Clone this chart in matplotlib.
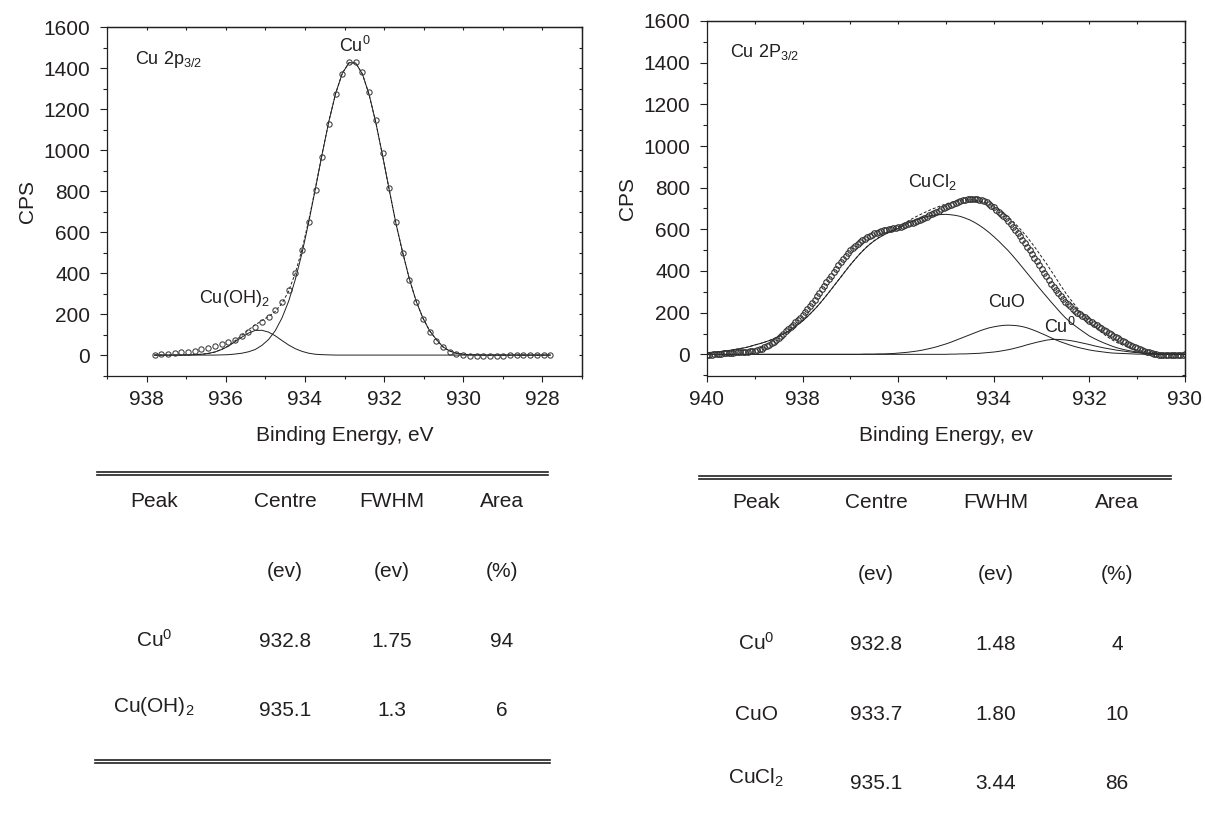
import numpy as np
import matplotlib
matplotlib.use("Agg")
import matplotlib.pyplot as plt
from matplotlib.lines import Line2D
from matplotlib.ticker import MultipleLocator, NullFormatter

INK = "#231f20"
W, H = 1205, 833

plt.rcParams.update({
    "font.family": ["Liberation Sans", "DejaVu Sans"],
    "font.size": 15,
    "mathtext.fontset": "custom",
    "mathtext.rm": "Liberation Sans",
    "mathtext.it": "Liberation Sans:italic",
    "text.color": INK, "axes.edgecolor": INK, "axes.labelcolor": INK,
    "xtick.color": INK, "ytick.color": INK, "axes.linewidth": 0.9,
})

# ---- left panel: Cu 2p3/2, 60 points 937.8 -> 927.8 eV ----
left_be = np.linspace(937.8, 927.8, 60)
left_cps = [0, 3, 6, 9, 13, 17, 22, 28, 35, 43,
            52, 62, 75, 92, 112, 135, 160, 188, 218, 258,
            318, 402, 512, 650, 803, 968, 1128, 1271, 1371, 1431,
            1431, 1382, 1285, 1146, 987, 816, 649, 496, 366, 257,
            174, 114, 70, 37, 15, 6, 1, -3, -4, -4,
            -4, -3, -3, -2, -2, -1, -1, 0, 0, 0]
left_fit = [0, 0, 0, 0, 0, 1, 2, 4, 8, 15,
            28, 45, 70, 96, 123, 147, 168, 188, 213, 252,
            312, 401, 517, 659, 818, 984, 1142, 1276, 1375, 1426,
            1424, 1370, 1269, 1132, 972, 804, 640, 499, 370, 263,
            181, 119, 76, 40, 20, 9, 4, 2, 1, 0,
            0, 0, 0, 0, 0, 0, 0, 0, 0, 0]
left_cu0 = [0, 0, 0, 0, 0, 0, 0, 0, 0, 0,
            1, 2, 5, 9, 16, 27, 47, 76, 119, 181,
            263, 370, 499, 650, 814, 982, 1141, 1276, 1375, 1426,
            1424, 1370, 1269, 1132, 972, 804, 640, 499, 370, 263,
            181, 119, 76, 40, 20, 9, 4, 2, 1, 0,
            0, 0, 0, 0, 0, 0, 0, 0, 0, 0]
left_cuoh = [0, 0, 0, 0, 0, 1, 2, 4, 8, 15,
             27, 43, 65, 87, 107, 120, 121, 112, 94, 71,
             49, 31, 18, 9, 4, 2, 1, 0, 0, 0,
             0, 0, 0, 0, 0, 0, 0, 0, 0, 0,
             0, 0, 0, 0, 0, 0, 0, 0, 0, 0,
             0, 0, 0, 0, 0, 0, 0, 0, 0, 0]

# ---- right panel: Cu 2P3/2, data every 0.05 eV, fit curves every 0.1 eV ----
right_be = np.linspace(940.0, 930.0, 201)
right_cps = [-3, -2, -1, 0, 2, 3, 4, 5, 6, 6,
             7, 8, 9, 9, 10, 11, 12, 13, 15, 16,
             18, 21, 24, 28, 33, 38, 45, 53, 61, 70,
             80, 90, 100, 111, 121, 132, 143, 154, 165, 176,
             188, 202, 217, 232, 247, 262, 279, 295, 312, 328,
             345, 362, 378, 395, 411, 428, 443, 458, 473, 487,
             501, 511, 521, 530, 539, 548, 555, 562, 568, 574,
             580, 584, 588, 592, 595, 598, 600, 603, 605, 608,
             610, 613, 617, 620, 624, 628, 632, 637, 641, 646,
             650, 656, 661, 667, 672, 678, 684, 690, 696, 701,
             707, 712, 718, 723, 728, 732, 736, 739, 742, 744,
             745, 746, 745, 744, 742, 740, 735, 729, 722, 714,
             705, 695, 685, 675, 664, 652, 639, 625, 611, 597,
             583, 567, 550, 534, 517, 500, 482, 464, 446, 428,
             410, 392, 375, 357, 340, 322, 308, 293, 279, 266,
             252, 241, 230, 220, 210, 200, 192, 185, 177, 170,
             162, 155, 147, 140, 132, 125, 118, 111, 104, 97,
             90, 83, 77, 71, 64, 58, 52, 46, 41, 35,
             30, 25, 21, 17, 13, 10, 7, 4, 1, -1,
             -3, -4, -4, -4, -3, -3, -2, -2, -1, -1,
             0]
fit_be = np.linspace(940.0, 930.0, 101)
right_fit = [8, 10, 12, 14, 17, 20, 24, 28, 32, 38,
             45, 51, 58, 66, 75, 86, 98, 111, 126, 142,
             160, 181, 204, 228, 255, 283, 312, 342, 371, 401,
             430, 457, 483, 507, 528, 546, 562, 575, 588, 599,
             611, 625, 639, 652, 664, 675, 686, 696, 705, 714,
             722, 729, 735, 740, 741, 742, 740, 736, 730, 721,
             708, 694, 678, 660, 638, 615, 589, 562, 532, 501,
             468, 436, 401, 366, 330, 296, 265, 236, 208, 182,
             156, 134, 115, 97, 81, 66, 54, 44, 35, 27,
             20, 15, 12, 8, 6, 4, 4, 2, 2, 0,
             0]
right_cucl2 = [8, 10, 12, 14, 17, 20, 24, 28, 32, 38,
               45, 51, 58, 66, 75, 86, 98, 111, 126, 142,
               160, 181, 204, 228, 255, 283, 312, 342, 371, 401,
               430, 457, 483, 506, 527, 545, 560, 573, 585, 595,
               605, 617, 629, 639, 648, 655, 661, 666, 669, 671,
               672, 670, 667, 662, 654, 645, 633, 619, 603, 585,
               565, 544, 521, 498, 472, 445, 417, 389, 361, 333,
               305, 278, 251, 225, 199, 175, 155, 137, 120, 104,
               88, 76, 65, 55, 46, 37, 30, 24, 19, 15,
               11, 8, 6, 4, 3, 2, 2, 1, 1, 0,
               0]
right_cuo = [0, 0, 0, 0, 0, 0, 0, 0, 0, 0,
             0, 0, 0, 0, 0, 0, 0, 0, 0, 0,
             0, 0, 0, 0, 0, 0, 0, 0, 0, 0,
             0, 0, 0, 1, 1, 1, 2, 2, 3, 4,
             6, 8, 10, 13, 16, 20, 25, 30, 36, 43,
             50, 58, 67, 76, 85, 94, 103, 112, 120, 127,
             132, 136, 139, 140, 139, 137, 133, 127, 119, 110,
             100, 90, 79, 69, 60, 52, 44, 37, 31, 26,
             21, 17, 14, 11, 8, 6, 5, 4, 3, 2,
             1, 1, 1, 0, 0, 0, 0, 0, 0, 0,
             0]
right_cu0 = [0, 0, 0, 0, 0, 0, 0, 0, 0, 0,
             0, 0, 0, 0, 0, 0, 0, 0, 0, 0,
             0, 0, 0, 0, 0, 0, 0, 0, 0, 0,
             0, 0, 0, 0, 0, 0, 0, 0, 0, 0,
             0, 0, 0, 0, 0, 0, 0, 0, 0, 0,
             0, 1, 1, 2, 2, 3, 4, 5, 7, 9,
             11, 14, 18, 22, 27, 33, 39, 46, 52, 58,
             63, 68, 71, 72, 71, 69, 66, 62, 57, 52,
             47, 41, 36, 31, 27, 23, 19, 16, 13, 10,
             8, 6, 5, 4, 3, 2, 2, 1, 1, 0,
             0]

# ---- tables ----
cols = ["Peak", "Centre", "FWHM", "Area"]
units = ["", "(ev)", "(ev)", "(%)"]
left_rows = [["Cu$^{\\mathregular{0}}$", "932.8", "1.75", "94"],
             ["Cu(OH)$_{\\mathregular{2}}$", "935.1", "1.3", "6"]]
right_rows = [["Cu$^{\\mathregular{0}}$", "932.8", "1.48", "4"],
              ["CuO", "933.7", "1.80", "10"],
              ["CuCl$_{\\mathregular{2}}$", "935.1", "3.44", "86"]]


def px(x, y):
    return x / W, 1 - y / H


def frame(ax, xlim, ylim, xlabel):
    ax.set_xlim(*xlim)
    ax.set_ylim(*ylim)
    ax.xaxis.set_major_locator(MultipleLocator(2))
    ax.xaxis.set_minor_locator(MultipleLocator(1))
    ax.yaxis.set_major_locator(MultipleLocator(200))
    ax.yaxis.set_minor_locator(MultipleLocator(100))
    ax.tick_params(axis="y", which="major", direction="out", length=5, width=0.8, pad=7)
    ax.tick_params(axis="y", which="minor", direction="out", length=3, width=0.8)
    ax.tick_params(axis="x", which="major", direction="out", length=4, width=0.8, pad=6)
    ax.tick_params(axis="x", which="minor", direction="out", length=2.5, width=0.8)
    ax.tick_params(labelsize=15)
    top = ax.secondary_xaxis("top")
    top.xaxis.set_major_locator(MultipleLocator(1))
    top.xaxis.set_major_formatter(NullFormatter())
    top.tick_params(direction="in", length=2.5, width=0.8)
    right = ax.secondary_yaxis("right")
    right.yaxis.set_major_locator(MultipleLocator(100))
    right.yaxis.set_major_formatter(NullFormatter())
    right.tick_params(direction="in", length=2.5, width=0.8)
    ax.set_ylabel("CPS", fontsize=15, labelpad=5)
    ax.set_xlabel(xlabel, fontsize=15, labelpad=12)


fig = plt.figure(figsize=(W / 100, H / 100), dpi=100)

# left spectrum
ax1 = fig.add_axes([107 / W, 1 - 376 / H, 475 / W, 349 / H])
frame(ax1, (939, 927), (-102, 1600), "Binding Energy, eV")
ax1.plot(left_be, left_cu0, color=INK, lw=0.7)
ax1.plot(left_be, left_cuoh, color=INK, lw=0.7)
ax1.plot(left_be, left_fit, color=INK, lw=0.7, ls=(0, (3, 2)))
ax1.plot(left_be, left_cps, "o", ms=3.8, mfc="none", mec="#3a3a3a", mew=0.75)
ax1.text(938.3, 1418, "Cu 2p$_{\\mathregular{3/2}}$", fontsize=13)
ax1.text(932.75, 1479, "Cu$^{\\mathregular{0}}$", fontsize=13, ha="center")
ax1.text(936.67, 252, "Cu(OH)$_{\\mathregular{2}}$", fontsize=13)

# right spectrum
ax2 = fig.add_axes([707 / W, 1 - 376 / H, 478 / W, 355 / H])
frame(ax2, (940, 930), (-104, 1600), "Binding Energy, ev")
ax2.plot(fit_be, right_cucl2, color=INK, lw=0.7)
ax2.plot(fit_be, right_cuo, color=INK, lw=0.7)
ax2.plot(fit_be, right_cu0, color=INK, lw=0.7)
ax2.plot(fit_be, right_fit, color=INK, lw=0.7, ls=(0, (3, 2)))
ax2.plot(right_be, right_cps, "o", ms=4.0, mfc="none", mec="#333333", mew=0.8)
ax2.text(939.52, 1426, "Cu 2P$_{\\mathregular{3/2}}$", fontsize=13)
ax2.text(935.8, 805, "CuCl$_{\\mathregular{2}}$", fontsize=13)
ax2.text(934.11, 226, "CuO", fontsize=13)
ax2.text(932.96, 101, "Cu$^{\\mathregular{0}}$", fontsize=13)


def table(col_x, head_y, unit_y, row_y, rows, label_shift):
    for x, c, u in zip(col_x, cols, units):
        fig.text(*px(x, head_y), c, ha="center", va="baseline", fontsize=15)
        if u:
            fig.text(*px(x, unit_y), u, ha="center", va="baseline", fontsize=15)
    for y, row, sh in zip(row_y, rows, label_shift):
        for j, (x, s) in enumerate(zip(col_x, row)):
            yy = y - sh if j == 0 else y
            fig.text(*px(x, yy), s, ha="center", va="baseline", fontsize=15)


def hline(x0, x1, y):
    fig.add_artist(Line2D([x0 / W, x1 / W], [1 - y / H, 1 - y / H],
                          color=INK, lw=1.2, transform=fig.transFigure))


table([154, 285, 392, 502], 506.7, 576.7, [647, 716], left_rows, [0, 4])
hline(97, 548, 472.3); hline(97, 548, 475.3)
hline(95, 550, 759.5); hline(95, 550, 762.5)

table([756, 876, 996, 1117], 508.3, 580, [650, 720, 789], right_rows, [0, 0, 5])
hline(699, 1171, 476); hline(699, 1171, 479)

fig.savefig("out.png", dpi=100)
